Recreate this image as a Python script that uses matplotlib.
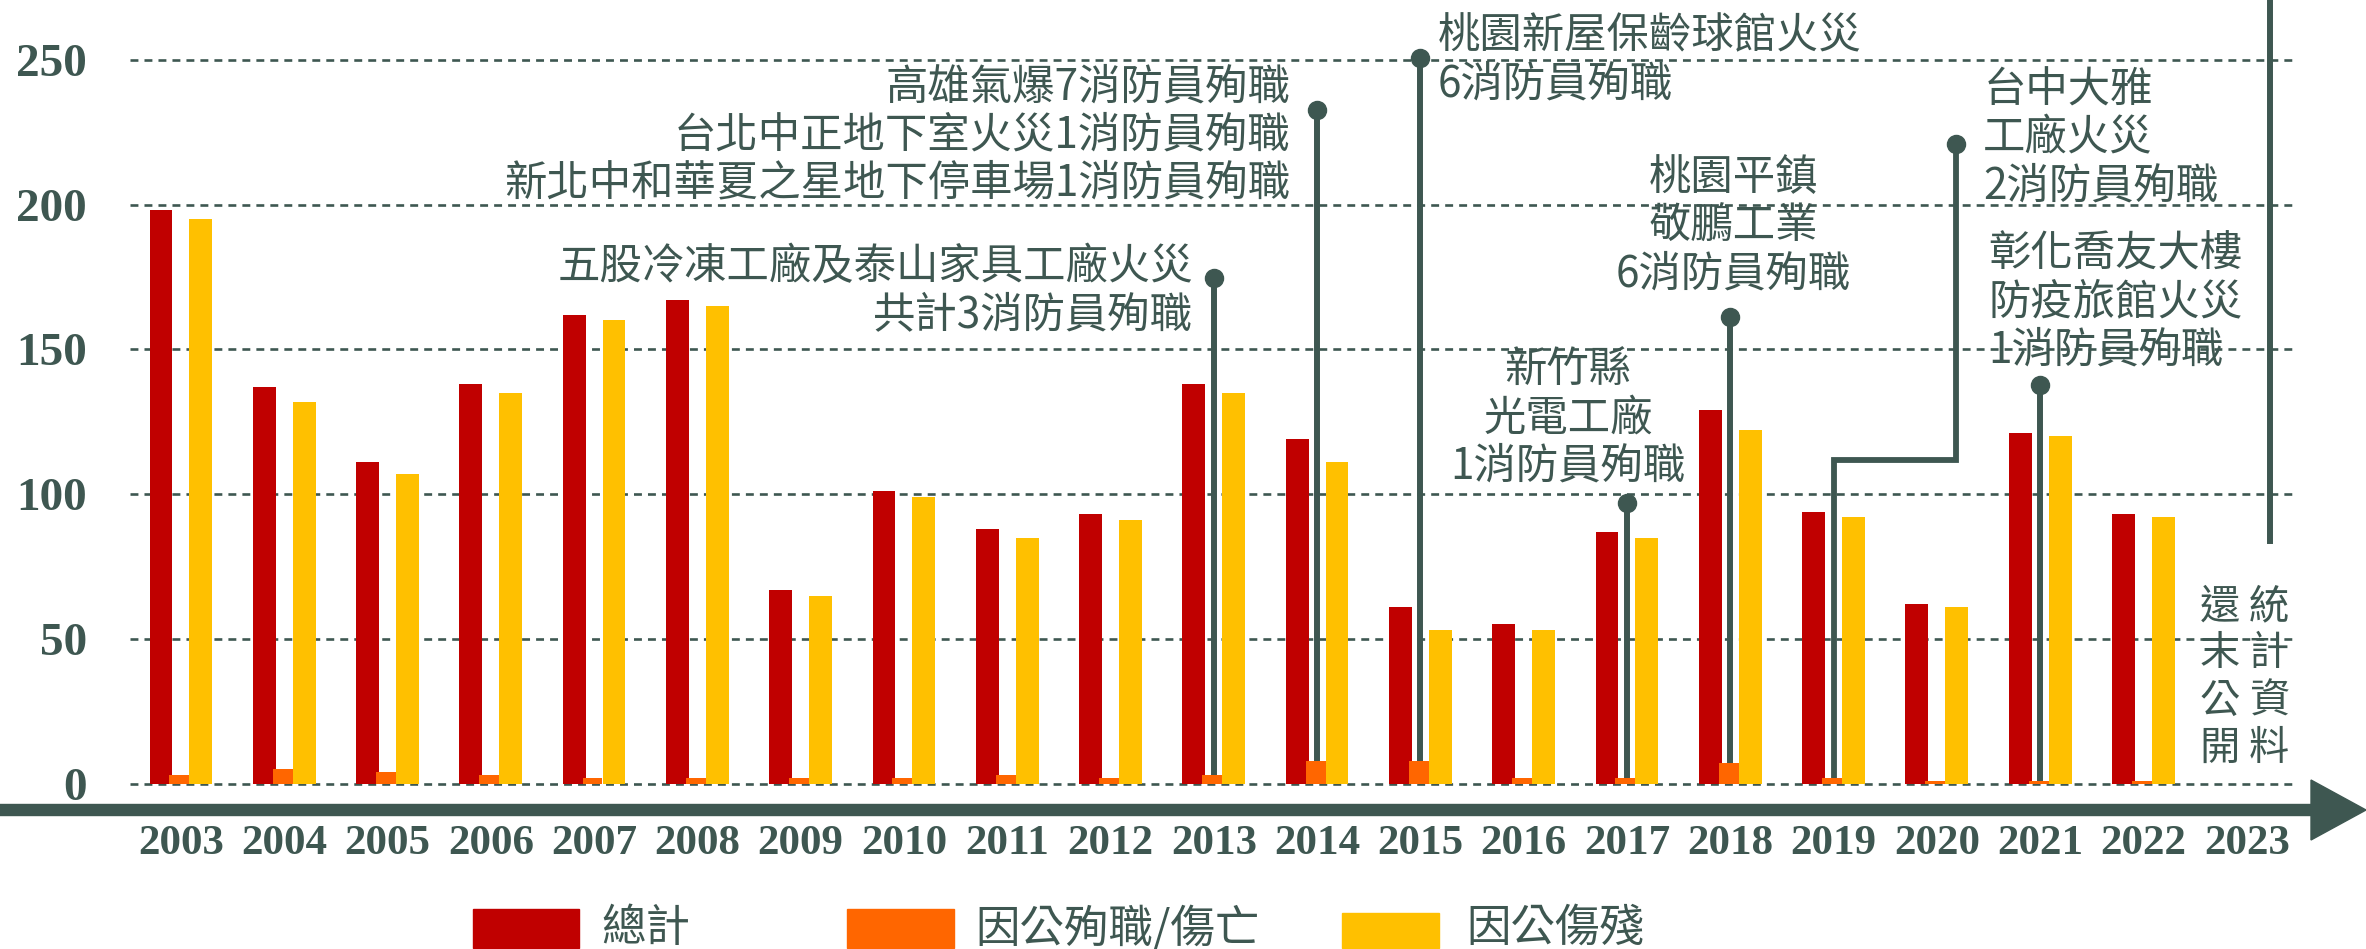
import numpy as np
import matplotlib
matplotlib.use('Agg')
import matplotlib.pyplot as plt
from matplotlib.patches import FancyArrow, Rectangle
from matplotlib.transforms import IdentityTransform

plt.rcParams['font.family'] = ['Noto Sans CJK TC', 'DejaVu Sans']

# 資料
years = [str(y) for y in range(2003, 2024)]
total = [198, 137, 111, 138, 162, 167, 67, 101, 88, 93, 138, 119, 61, 55, 87, 129, 94, 62, 121, 93, np.nan]
deaths = [3, 5, 4, 3, 2, 2, 2, 2, 3, 2, 3, 8, 8, 2, 2, 7, 2, 1, 1, 1, np.nan]
disabled = [195, 132, 107, 135, 160, 165, 65, 99, 85, 91, 135, 111, 53, 53, 85, 122, 92, 61, 120, 92, np.nan]
series_names = ['總計', '因公殉職/傷亡', '因公傷殘']

event_years = [2013, 2014, 2015, 2017, 2018, 2019, 2021]
event_texts = [
    '五股冷凍工廠及泰山家具工廠火災\n共計3消防員殉職',
    '高雄氣爆7消防員殉職\n台北中正地下室火災1消防員殉職\n新北中和華夏之星地下停車場1消防員殉職',
    '桃園新屋保齡球館火災\n6消防員殉職',
    '新竹縣\n光電工廠\n1消防員殉職',
    '桃園平鎮\n敬鵬工業\n6消防員殉職',
    '台中大雅\n工廠火災\n2消防員殉職',
    '彰化喬友大樓\n防疫旅館火災\n1消防員殉職',
]
note_text = ['統\n計\n資\n料', '還\n末\n公\n開']

# 顏色
RED = '#C00000'
ORANGE = '#FF6600'
YELLOW = '#FFC000'
DARK = '#3E5751'

W, H = 2366, 949
UNIT = 2.895  # 每單位像素
Y0 = 783.7    # 0 的像素位置
YMIN = -3
fig = plt.figure(figsize=(W / 100, H / 100), dpi=100)
bottom_px = Y0 - YMIN * UNIT
ax = fig.add_axes([130 / W, (H - bottom_px) / H, (2294 - 130) / W, bottom_px / H])

x = np.arange(len(years))
ax.bar(x - 0.193, total, 0.222, color=RED, zorder=2)
ax.bar(x + 0.193, disabled, 0.222, color=YELLOW, zorder=2)

# 事件標示線
yr0 = int(years[0])
line_gap = 16.6  # 行距 (資料單位)
# (dot value, text x, first line y, ha)
layout = [
    (174.7, 9.80, 179.2, 'right'),
    (232.7, 10.74, 241.3, 'right'),
    (250.5, 12.17, 258.9, 'left'),
    (96.9, 13.43, 143.4, 'center'),
    (161.3, 15.03, 209.9, 'center'),
    (221.0, 17.45, 240.3, 'left'),
    (137.7, 17.50, 183.7, 'left'),
]
for yr, txt, (top, tx, ty, ha) in zip(event_years, event_texts, layout):
    i = yr - yr0
    base = deaths[i]
    if yr == 2019:
        xd = 17.19
        ax.plot([i, i, xd, xd], [base, 111.7, 111.7, top], color=DARK, lw=4.2,
                solid_joinstyle='miter', zorder=3)
        ax.plot(xd, top, 'o', color=DARK, ms=13, zorder=3)
    else:
        ax.plot([i, i], [base, top], color=DARK, lw=4.3, zorder=3)
        ax.plot(i, top, 'o', color=DARK, ms=13, zorder=3)
    for k, line in enumerate(txt.split('\n')):
        ax.text(tx, ty - 0.8 - k * line_gap, line, ha=ha, va='center', fontsize=30.5,
                fontweight='medium', color=DARK, zorder=4)

ax.bar(x - 0.015, deaths, 0.193, color=ORANGE, zorder=4)

# 2023 尚無資料
ax.plot([20.226, 20.226], [84, 272], color=DARK, lw=4.3, clip_on=False, zorder=3)
ax.text(20.215, 36.7, note_text[0], ha='center', va='center', fontsize=29,
        fontweight='medium', color=DARK, linespacing=1.19)
ax.text(19.74, 36.7, note_text[1], ha='center', va='center', fontsize=29,
        fontweight='medium', color=DARK, linespacing=1.19)

ax.set_xlim(-0.4928, 20.458)
ax.set_ylim(YMIN, 270.7)
ax.set_yticks([0, 50, 100, 150, 200, 250])
ax.set_xticks(x)
ax.set_xticklabels(years)
ax.tick_params(axis='both', length=0, colors=DARK)
ax.tick_params(axis='x', pad=30 - (-YMIN * UNIT) / 1.389)
ax.tick_params(axis='y', pad=31)
for lab in ax.get_xticklabels():
    lab.set_fontfamily('Liberation Serif')
    lab.set_fontweight('bold')
    lab.set_fontsize(31)
for lab in ax.get_yticklabels():
    lab.set_fontfamily('Liberation Serif')
    lab.set_fontweight('bold')
    lab.set_fontsize(34)

ax.yaxis.grid(True, color=DARK, lw=1.9, linestyle=(0, (3.0, 2.3)), zorder=0.5)
ax.set_axisbelow(True)
for s in ax.spines.values():
    s.set_visible(False)

# 橫軸箭頭
fig.add_artist(FancyArrow(0, H - 810, W, 0, width=11, head_width=60, head_length=55,
                          length_includes_head=True, color=DARK, transform=IdentityTransform()))

# 圖例
leg_colors = [RED, ORANGE, YELLOW]
leg_patch = [(473, 909, 106, 39), (847, 909, 107, 39), (1342, 913, 97, 35)]
leg_text_x = [601, 975, 1466]
for c, (px, py, pw, ph), name, tx in zip(leg_colors, leg_patch, series_names, leg_text_x):
    fig.add_artist(Rectangle((px / W, 1 - (py + ph) / H), pw / W, ph / H, color=c,
                             transform=fig.transFigure))
    fig.text(tx / W, 1 - 928 / H, name, ha='left', va='center', fontsize=32,
             fontweight='medium', color=DARK)

fig.savefig('out.png', dpi=100)
